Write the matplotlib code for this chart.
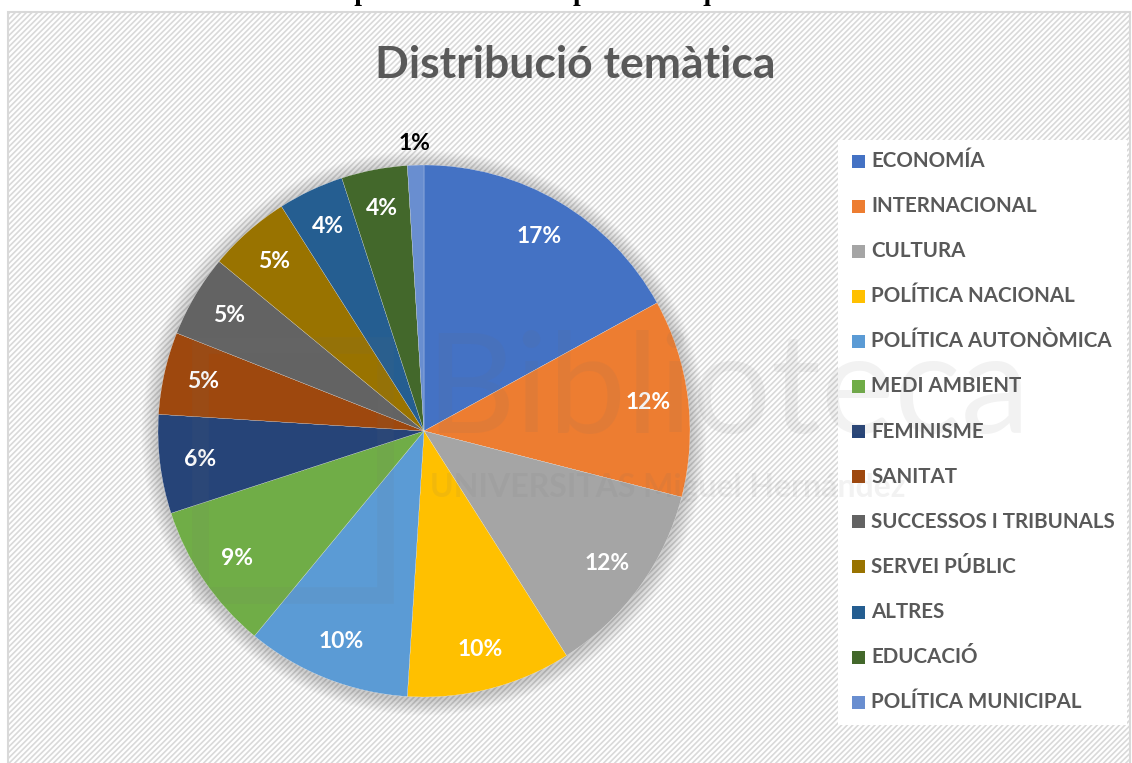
import matplotlib
matplotlib.use("Agg")
import matplotlib.pyplot as plt
from matplotlib.patches import Rectangle, Circle

# ----------------------------------------------------
# Data
# ----------------------------------------------------
categories = [
    "ECONOMÍA", "INTERNACIONAL", "CULTURA", "POLÍTICA NACIONAL",
    "POLÍTICA AUTONÒMICA", "MEDI AMBIENT", "FEMINISME", "SANITAT",
    "SUCCESSOS I TRIBUNALS", "SERVEI PÚBLIC", "ALTRES", "EDUCACIÓ",
    "POLÍTICA MUNICIPAL",
]
shares = [17, 12, 12, 10, 10, 9, 6, 5, 5, 5, 4, 4, 1]
colors = [
    "#4472C4", "#ED7D31", "#A5A5A5", "#FFC000", "#5B9BD5", "#70AD47",
    "#264478", "#9E480E", "#636363", "#997300", "#255E91", "#43682B",
    "#698ED0",
]
title = "Distribució temàtica"

W, H = 1132, 763
FONT = ["Lato", "DejaVu Sans"]
TXT = "#595959"

plt.rcParams["hatch.color"] = "#f0f0f0"
plt.rcParams["hatch.linewidth"] = 1.2

fig = plt.figure(figsize=(W / 100, H / 100), dpi=100)
fig.patch.set_facecolor("white")

# background overlay in pixel coords
bg = fig.add_axes([0, 0, 1, 1])
bg.set_xlim(0, W)
bg.set_ylim(H, 0)
bg.axis("off")
bg.add_patch(Rectangle((8, 12), 1122, 760, facecolor="white",
                       edgecolor="#d9d9d9", lw=1.5, hatch="//////", zorder=0))
bg.add_patch(Rectangle((838, 140), 289, 585, facecolor="white",
                       edgecolor="none", zorder=1))

# clipped caption at the very top (only its lower part shows)
bg.text(15, 0.5, "Gràfic 1. Distribució del temps de l'informatiu per temàtiques",
        fontsize=20, fontweight="bold", family="Liberation Serif",
        ha="left", va="baseline", color="black")

bg.text(575, 65, title, fontsize=32, fontweight="bold", family=FONT,
        color=TXT, ha="center", va="center")

# pie shadow
cx, cy, r = 424, 431, 266
for k in range(10):
    bg.add_patch(Circle((cx, cy + 2), r + 2 + k * 1.6, facecolor="black",
                        alpha=0.018, edgecolor="none", zorder=1))

# ----------------------------------------------------
# Pie
# ----------------------------------------------------
ax = fig.add_axes([(cx - r) / W, (H - cy - r) / H, 2 * r / W, 2 * r / H])
wedges, texts, autotexts = ax.pie(
    shares, colors=colors, startangle=90, counterclock=False,
    autopct="%d%%", pctdistance=0.85,
    wedgeprops=dict(edgecolor="white", linewidth=0.15),
    textprops=dict(fontsize=16.5, fontweight="bold", family=FONT, color="white"),
)
ax.set_xlim(-1, 1)
ax.set_ylim(-1, 1)
ax.set_aspect("equal")
ax.axis("off")
# small slice label sits outside in black
for v, t in zip(shares, autotexts):
    if v <= 1:
        x, y = t.get_position()
        t.set_position((x / 0.85 * 1.08, y / 0.85 * 1.08))
        t.set_color("black")

# ----------------------------------------------------
# Watermark
# ----------------------------------------------------
wm = fig.add_axes([0, 0, 1, 1])
wm.set_xlim(0, W)
wm.set_ylim(H, 0)
wm.axis("off")
wm.patch.set_alpha(0)
wm.text(425, 393, "Biblioteca", fontsize=100, family=FONT, color="#707070",
        alpha=0.09, ha="left", va="center")
wm.text(430, 488, "UNIVERSITAS Miguel Hernández", fontsize=23, fontweight="bold",
        family=FONT, color="#707070", alpha=0.09, ha="left", va="center")
wm.add_patch(Rectangle((200, 345), 185, 250, facecolor="none", edgecolor="#707070",
                       lw=12, alpha=0.08))

# ----------------------------------------------------
# Legend
# ----------------------------------------------------
for i, (lab, c) in enumerate(zip(categories, colors)):
    y = 161 + i * 45.1
    wm.add_patch(Rectangle((852, y - 6.5), 13, 13, facecolor=c, edgecolor="none"))
    wm.text(871, y, lab, fontsize=14.8, fontweight="bold", family=FONT,
            color=TXT, ha="left", va="center")

fig.savefig("out.png", dpi=100)
